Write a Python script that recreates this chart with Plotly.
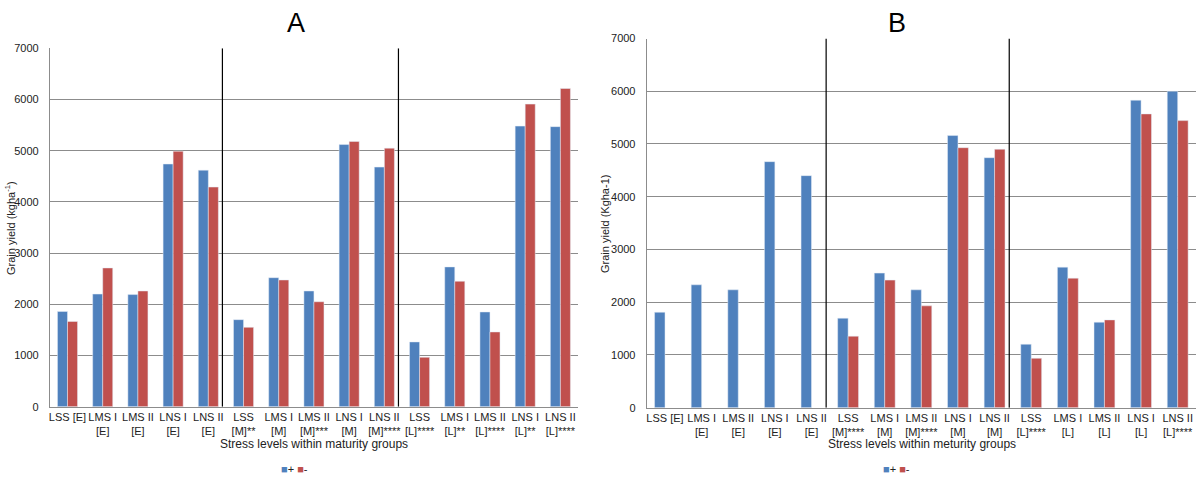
import plotly.graph_objects as go

cats_a = ["LSS [E]", "LMS I<br>[E]", "LMS II<br>[E]", "LNS I<br>[E]", "LNS II<br>[E]",
          "LSS<br>[M]**", "LMS I<br>[M]", "LMS II<br>[M]***", "LNS I<br>[M]", "LNS II<br>[M]****",
          "LSS<br>[L]****", "LMS I<br>[L]**", "LMS II<br>[L]****", "LNS I<br>[L]**", "LNS II<br>[L]****"]
plus_a = [1860, 2200, 2190, 4740, 4620, 1700, 2520, 2260, 5120, 4680, 1265, 2730, 1850, 5480, 5470]
minus_a = [1665, 2710, 2260, 4990, 4290, 1550, 2475, 2050, 5180, 5050, 965, 2450, 1460, 5910, 6215]

cats_b = ["LSS [E]", "LMS I<br>[E]", "LMS II<br>[E]", "LNS I<br>[E]", "LNS II<br>[E]",
          "LSS<br>[M]****", "LMS I<br>[M]", "LMS II<br>[M]****", "LNS I<br>[M]", "LNS II<br>[M]",
          "LSS<br>[L]****", "LMS I<br>[L]", "LMS II<br>[L]", "LNS I<br>[L]", "LNS II<br>[L]****"]
plus_b = [1810, 2330, 2235, 4665, 4400, 1697, 2552, 2235, 5160, 4740, 1203, 2665, 1621, 5830, 6000]
minus_b = [None, None, None, None, None, 1356, 2419, 1931, 4930, 4900, 937, 2456, 1665, 5570, 5443]

series_names = ["+", "-"]
y_ticks = [0, 1000, 2000, 3000, 4000, 5000, 6000, 7000]
dividers = [4.4, 9.4]

BLUE = "#4F81BD"
RED = "#C0504D"
GRID = "#8c8c8c"
FONT = "Liberation Sans, Arial, sans-serif"

fig = go.Figure()

fig.add_trace(go.Bar(x=list(range(15)), y=plus_a, name=series_names[0], marker_color=BLUE,
                     xaxis="x", yaxis="y", showlegend=False))
fig.add_trace(go.Bar(x=list(range(15)), y=minus_a, name=series_names[1], marker_color=RED,
                     xaxis="x", yaxis="y", showlegend=False))
fig.add_trace(go.Bar(x=list(range(15)), y=plus_b, name=series_names[0], marker_color=BLUE,
                     xaxis="x2", yaxis="y2", showlegend=False))
fig.add_trace(go.Bar(x=list(range(15)), y=minus_b, name=series_names[1], marker_color=RED,
                     xaxis="x2", yaxis="y2", showlegend=False))

W, H = 1200, 483
ax_a = dict(x0=49.9, x1=578.0, y0=406.7, y1=48.3)
ax_b = dict(x0=646.7, x1=1196.0, y0=407.7, y1=38.5)

def xdom(a):
    return [a["x0"] / W, a["x1"] / W]

def ydom(a):
    return [(H - a["y0"]) / H, (H - a["y1"]) / H]

common_x = dict(tickmode="array", tickvals=list(range(15)), range=[-0.5, 14.5],
                showline=True, linecolor=GRID, linewidth=1, ticks="",
                tickfont=dict(size=11, color="#222", family=FONT), showgrid=False,
                tickangle=0, fixedrange=True, automargin=False)
common_y = dict(range=[0, 7000], tickvals=y_ticks, showgrid=True, gridcolor=GRID,
                gridwidth=1, showline=True, linecolor=GRID, linewidth=1, zeroline=False,
                tickfont=dict(size=11, color="#222", family=FONT), ticks="",
                ticklabelstandoff=8, automargin=False, fixedrange=True)

fig.update_layout(
    width=W, height=H, autosize=False,
    margin=dict(l=0, r=0, t=0, b=0, autoexpand=False),
    paper_bgcolor="white", plot_bgcolor="white",
    font=dict(family=FONT, color="#222"),
    barmode="group", bargap=0.43, bargroupgap=0,
    showlegend=False,
    xaxis=dict(domain=xdom(ax_a), anchor="y", ticktext=cats_a, **common_x),
    yaxis=dict(domain=ydom(ax_a), anchor="x", **common_y),
    xaxis2=dict(domain=xdom(ax_b), anchor="y2", ticktext=cats_b, **common_x),
    yaxis2=dict(domain=ydom(ax_b), anchor="x2", **common_y),
)

shapes = []
for d in dividers:
    shapes.append(dict(type="line", xref="x", yref="y", x0=d, x1=d, y0=0, y1=7000,
                       line=dict(color="black", width=1.2)))
    shapes.append(dict(type="line", xref="x2", yref="y2", x0=d, x1=d, y0=0, y1=7000,
                       line=dict(color="black", width=1.2)))
fig.update_layout(shapes=shapes)

def legend_text():
    return (f"<span style='color:{BLUE}'>■</span>{series_names[0]} "
            f"<span style='color:{RED}'>■</span>{series_names[1]}")

ann = [
    dict(text="A", x=296 / W, y=(H - 23) / H, xref="paper", yref="paper", showarrow=False,
         font=dict(size=27, family=FONT, color="black"), xanchor="center", yanchor="middle"),
    dict(text="B", x=897 / W, y=(H - 23) / H, xref="paper", yref="paper", showarrow=False,
         font=dict(size=27, family=FONT, color="black"), xanchor="center", yanchor="middle"),
    dict(text="Grain yield (kgha<sup>-1</sup>)", x=10 / W, y=(H - 228) / H, xref="paper", yref="paper",
         showarrow=False, textangle=-90, font=dict(size=11, family=FONT, color="#222"),
         xanchor="center", yanchor="middle"),
    dict(text="Grain yield (Kgha-1)", x=605 / W, y=(H - 224) / H, xref="paper", yref="paper",
         showarrow=False, textangle=-90, font=dict(size=11, family=FONT, color="#222"),
         xanchor="center", yanchor="middle"),
    dict(text="Stress levels within maturity groups", x=314 / W, y=(H - 444) / H, xref="paper",
         yref="paper", showarrow=False, font=dict(size=12, family=FONT, color="#222"),
         xanchor="center", yanchor="middle"),
    dict(text="Stress levels within meturity groups", x=922 / W, y=(H - 444) / H, xref="paper",
         yref="paper", showarrow=False, font=dict(size=12, family=FONT, color="#222"),
         xanchor="center", yanchor="middle"),
    dict(text=legend_text(), x=294 / W, y=(H - 469) / H, xref="paper", yref="paper",
         showarrow=False, font=dict(size=11, family=FONT, color="#222"),
         xanchor="center", yanchor="middle"),
    dict(text=legend_text(), x=896 / W, y=(H - 469) / H, xref="paper", yref="paper",
         showarrow=False, font=dict(size=11, family=FONT, color="#222"),
         xanchor="center", yanchor="middle"),
]
fig.update_layout(annotations=ann)

fig.write_html("out.html", config={"displayModeBar": False},
               post_script="document.body.style.margin='0';document.body.style.overflow='hidden';")
